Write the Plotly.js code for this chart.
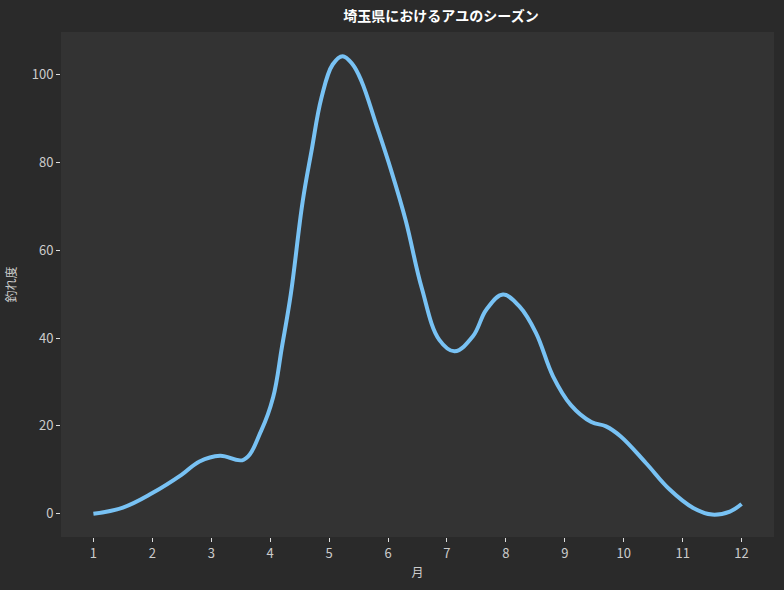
<!DOCTYPE html>
<html>
<head>
<meta charset="utf-8">
<script src="https://cdn.plot.ly/plotly-3.0.1.min.js"></script>
<style>html,body{margin:0;padding:0;background:#2a2a2a;}#chart{width:784px;height:590px;}</style>
</head>
<body>
<div id="chart"></div>
<script>
const months = [1, 1.5, 2, 2.5, 2.8, 3.15, 3.55, 3.85, 4.05, 4.2, 4.35, 4.55, 4.7, 4.87, 5.06, 5.23, 5.4, 5.55, 5.8, 6.05, 6.3, 6.57, 6.87, 7.13, 7.44, 7.67, 7.95, 8.23, 8.51, 8.8, 9.1, 9.45, 9.7, 9.95, 10.38, 10.78, 11.18, 11.5, 11.8, 12];
const score = [0, 1.4, 4.7, 8.9, 11.9, 13.2, 12.3, 19, 26.5, 38, 50, 71, 82.5, 94.7, 102.3, 104.2, 102.3, 98.5, 88.6, 78.3, 66.8, 51.5, 39.6, 37.0, 40.4, 46.5, 49.9, 47.2, 41.2, 31.3, 24.8, 20.9, 19.9, 17.6, 11.5, 5.5, 1.3, -0.2, 0.5, 2.2];
const tickVals = [1,2,3,4,5,6,7,8,9,10,11,12];
const tickText = ['1','2','3','4','5','6','7','8','9','10','11','12'];
const yTickVals = [0,20,40,60,80,100];

const font = '"Noto Sans CJK JP", "Noto Sans", sans-serif';
Plotly.newPlot('chart', [{
  x: months, y: score, type: 'scatter', mode: 'lines',
  line: {color: '#78c2f4', width: 4, shape: 'spline', smoothing: 1.1},
  hoverinfo: 'skip'
}], {
  width: 784, height: 590,
  paper_bgcolor: '#2a2a2a', plot_bgcolor: '#333333',
  margin: {l: 61, r: 10, t: 32, b: 53},
  showlegend: false,
  title: {text: '<b>埼玉県におけるアユのシーズン</b>', x: 0.533, xref: 'paper', y: 0.972, yanchor: 'middle',
          font: {family: font, size: 14, color: '#ffffff'}},
  xaxis: {range: [0.45, 12.55], tickvals: tickVals, ticktext: tickText, showgrid: false, zeroline: false, showline: false,
          ticks: 'outside', ticklen: 4, tickwidth: 1, tickcolor: '#dddddd',
          tickfont: {family: font, size: 13, color: '#cccccc'},
          title: {text: '月', font: {family: font, size: 12, color: '#cccccc'}, standoff: 8}},
  yaxis: {range: [-5.3, 109.7], tickvals: yTickVals, showgrid: false, zeroline: false, showline: false,
          ticks: 'outside', ticklen: 4, tickwidth: 1, tickcolor: '#dddddd',
          tickfont: {family: font, size: 13, color: '#cccccc'},
          title: {text: '釣れ度', font: {family: font, size: 12, color: '#cccccc'}, standoff: 12}}
}, {displayModeBar: false, staticPlot: true});
</script>
</body>
</html>
